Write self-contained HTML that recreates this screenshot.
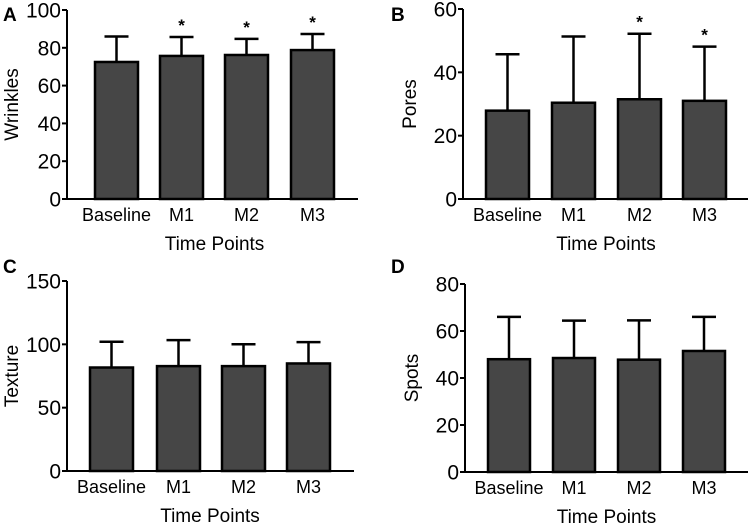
<!DOCTYPE html>
<html><head><meta charset="utf-8">
<style>
html,body{margin:0;padding:0;background:#fff;}
svg{display:block;font-family:"Liberation Sans",Arial,sans-serif;}
</style></head>
<body>
<svg id="chart" width="752" height="523" viewBox="0 0 752 523" xmlns="http://www.w3.org/2000/svg"></svg>
<script>
const categories = ["Baseline","M1","M2","M3"];
const wrinklesMean = [72.5,75.7,76.2,78.8];
const wrinklesErr = [86,85.7,84.7,87.3];
const wrinklesSig = [false,true,true,true];
const poresMean = [27.9,30.4,31.5,31];
const poresErr = [45.7,51.3,52.2,48.1];
const poresSig = [false,false,true,true];
const textureMean = [81.7,82.8,82.8,84.9];
const textureErr = [102,103.3,100.1,101.7];
const textureSig = [false,false,false,false];
const spotsMean = [48,48.5,47.8,51.5];
const spotsErr = [66,64.4,64.5,66];
const spotsSig = [false,false,false,false];
const wrinklesTicks = [0,20,40,60,80,100];
const poresTicks = [0,20,40,60];
const textureTicks = [0,50,100,150];
const spotsTicks = [0,20,40,60,80];

const NS="http://www.w3.org/2000/svg";
const svg=document.getElementById('chart');
function mk(tag,attrs,parent){const e=document.createElementNS(NS,tag);for(const k in attrs)e.setAttribute(k,attrs[k]);(parent||svg).appendChild(e);return e;}

const panels=[
 {letter:"A",title:"Wrinkles",mean:wrinklesMean,err:wrinklesErr,sig:wrinklesSig,ticks:wrinklesTicks,ax:67,y0:199,y1:10,xEnd:358,bars:[95,160,225,291],bw:43,lx:3,ly:21,titleX:18},
 {letter:"B",title:"Pores",mean:poresMean,err:poresErr,sig:poresSig,ticks:poresTicks,ax:463,y0:199,y1:9,xEnd:748,bars:[486,552,618,683],bw:43,lx:391,ly:21,titleX:416},
 {letter:"C",title:"Texture",mean:textureMean,err:textureErr,sig:textureSig,ticks:textureTicks,ax:67,y0:471,y1:281,xEnd:354,bars:[90,157,222,287],bw:43,lx:3,ly:273,titleX:18},
 {letter:"D",title:"Spots",mean:spotsMean,err:spotsErr,sig:spotsSig,ticks:spotsTicks,ax:465,y0:472,y1:284,xEnd:748,bars:[488,553,618,683],bw:42,lx:391,ly:273,titleX:418}
];

panels.forEach(p=>{
 const g=mk('g',{});
 
 
 const max=p.ticks[p.ticks.length-1];
 const yS=v=>p.y0-(v/max)*(p.y0-p.y1);
 const lt=mk('text',{x:p.lx,y:p.ly,'font-size':19,'font-weight':'bold',fill:'#000'},g);
 lt.textContent=p.letter;
 
 
 p.mean.forEach((m,i)=>{
  const x=p.bars[i], cx=x+p.bw/2;
  const el=mk('line',{x1:cx,x2:cx,y1:yS(m),y2:yS(p.err[i]),stroke:'#000','stroke-width':2.5},g);
  
  
  const cap=mk('line',{x1:cx-12,x2:cx+12,y1:yS(p.err[i]),y2:yS(p.err[i]),stroke:'#000','stroke-width':2.5},g);
  
  
  const r=mk('rect',{x:x,y:yS(m),width:p.bw,height:p.y0-yS(m),fill:'#464646',stroke:'#000','stroke-width':2.5},g);
  
  
  if(p.sig[i]){
   const s=mk('text',{x:cx,y:yS(p.err[i])-6,'text-anchor':'middle','font-size':17,'font-weight':'bold'},g);
   s.textContent='*';
   
   
  }
  const t=mk('text',{x:cx,y:p.y0+22,'text-anchor':'middle','font-size':18,fill:'#000'},g);
  t.textContent=categories[i];
  
  
 });
 const ya=mk('line',{x1:p.ax,x2:p.ax,y1:p.y1,y2:p.y0,stroke:'#000','stroke-width':2},g);
 
 
 const xa=mk('line',{x1:p.ax,x2:p.xEnd,y1:p.y0,y2:p.y0,stroke:'#000','stroke-width':2},g);
 
 
 p.ticks.forEach(v=>{
  const tk=mk('line',{x1:p.ax-5,x2:p.ax,y1:yS(v),y2:yS(v),stroke:'#000','stroke-width':2},g);
  
  
  const tl=mk('text',{x:p.ax-6,y:yS(v)+7.5,'text-anchor':'end','font-size':21,fill:'#000'},g);
  tl.textContent=v;
  
  
 });
 const yt=mk('text',{x:p.titleX,y:(p.y0+p.y1)/2,'text-anchor':'middle','font-size':19,transform:`rotate(-90 ${p.titleX} ${(p.y0+p.y1)/2})`},g);
 yt.textContent=p.title;
 
 
 const xt=mk('text',{x:(p.bars[0]+p.bars[3]+p.bw)/2,y:p.y0+51,'text-anchor':'middle','font-size':19},g);
 xt.textContent='Time Points';
 
 
});
</script>
</body></html>
